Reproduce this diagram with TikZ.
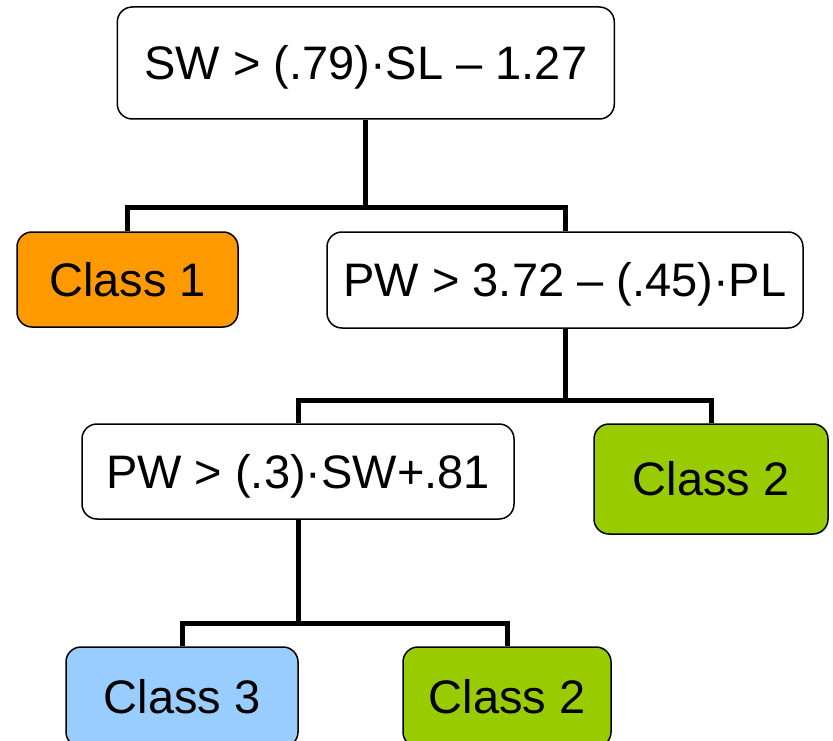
\documentclass[tikz,border=0pt]{standalone}
\usepackage{fontspec}
\setmainfont{Liberation Sans}
\definecolor{corange}{HTML}{FF9900}
\definecolor{cgreen}{HTML}{99CC00}
\definecolor{cblue}{HTML}{99CCFF}
\tikzset{
  box/.style={draw=black, line width=1.5pt, rounded corners=15pt, inner sep=0pt,
    font=\fontsize{47}{50}\selectfont, text height=33.6pt, text depth=0pt, fill=white},
  link/.style={draw=black, line width=5pt, line join=miter}
}
\begin{document}
\begin{tikzpicture}[x=1pt,y=-1pt]
\clip (0,0) rectangle (833,741);
\node[box, minimum width=497pt, minimum height=112pt] (root) at (365.8,63) {SW > (.79)·SL – 1.27};
\node[box, fill=corange, minimum width=221pt, minimum height=95pt] (c1) at (127.5,279.5) {Class 1};
\node[box, minimum width=476pt, minimum height=96pt] (pw1) at (565,280) {PW > 3.72 – (.45)·PL};
\node[box, minimum width=432pt, minimum height=95pt] (pw2) at (298,471.5) {PW > (.3)·SW+.81};
\node[box, fill=cgreen, minimum width=234pt, minimum height=110pt] (c2a) at (711,479) {Class 2};
\node[box, fill=cblue, minimum width=232pt, minimum height=100pt] (c3) at (182,697) {Class 3};
\node[box, fill=cgreen, minimum width=208pt, minimum height=100pt] (c2b) at (507,697) {Class 2};
\coordinate (j1) at (365.8,207);
\coordinate (j2) at (565,400);
\coordinate (j3) at (298,623);
\draw[link] (root.south) -- (j1);
\draw[link] (c1.north) |- (j1) -| (pw1.north);
\draw[link] (pw1.south) -- (j2);
\draw[link] (pw2.north) |- (j2) -| (c2a.north);
\draw[link] (pw2.south) -- (j3);
\draw[link] (c3.north) |- (j3) -| (c2b.north);
\end{tikzpicture}
\end{document}
